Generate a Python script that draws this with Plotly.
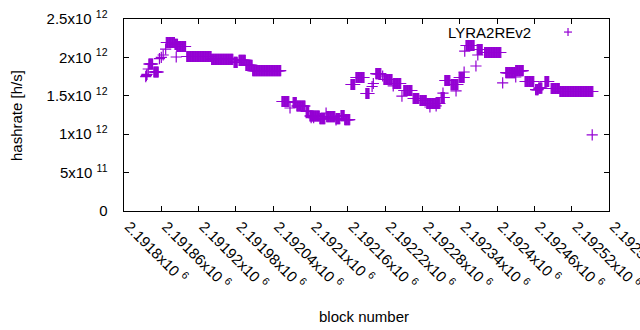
import numpy as np
import plotly.graph_objects as go

# Flat runs of consecutive blocks sharing one hashrate value (h/s)
run_start = [2191840, 2191848, 2191868, 2191882, 2191885, 2191901, 2191941, 2191977,
             2191985, 2191996, 2192007, 2192054, 2192072, 2192078, 2192093, 2192099,
             2192115, 2192126, 2192141, 2192149, 2192155, 2192165, 2192173, 2192189,
             2192205, 2192218, 2192233, 2192250, 2192265, 2192276, 2192287, 2192310,
             2192316, 2192326, 2192339, 2192350, 2192368, 2192380, 2192414, 2192430,
             2192445, 2192462, 2192467, 2192477, 2192487, 2192501]
run_end = [2191846, 2191855, 2191881, 2191886, 2191899, 2191940, 2191975, 2191982,
           2191995, 2192006, 2192052, 2192065, 2192077, 2192091, 2192097, 2192114,
           2192123, 2192139, 2192147, 2192154, 2192163, 2192171, 2192186, 2192194,
           2192213, 2192231, 2192245, 2192263, 2192274, 2192286, 2192308, 2192315,
           2192324, 2192337, 2192347, 2192363, 2192376, 2192406, 2192429, 2192442,
           2192459, 2192466, 2192472, 2192483, 2192500, 2192554]
run_value = [1.914e12, 1.810e12, 2.194e12, 2.170e12, 2.142e12, 2.012e12, 1.973e12, 1.934e12,
             1.960e12, 1.895e12, 1.829e12, 1.426e12, 1.413e12, 1.367e12, 1.296e12, 1.237e12,
             1.204e12, 1.230e12, 1.204e12, 1.243e12, 1.191e12, 1.647e12, 1.738e12, 1.530e12,
             1.790e12, 1.712e12, 1.660e12, 1.569e12, 1.465e12, 1.439e12, 1.400e12, 1.478e12,
             1.699e12, 1.647e12, 1.738e12, 2.155e12, 2.103e12, 2.064e12, 1.803e12, 1.829e12,
             1.686e12, 1.580e12, 1.600e12, 1.686e12, 1.595e12, 1.556e12]

# Isolated blocks
single_block = [2191835, 2191836, 2191837, 2191839, 2191857, 2191860, 2191863, 2191867,
                2191884, 2192067, 2192101, 2192105, 2192125, 2192141, 2192199, 2192201,
                2192216, 2192233, 2192247, 2192292, 2192302, 2192313, 2192334, 2192347,
                2192348, 2192366, 2192369, 2192409, 2192430, 2192553]
single_value = [1.749e12, 1.765e12, 1.780e12, 1.849e12, 1.985e12, 2.000e12, 2.031e12, 2.109e12,
                2.005e12, 1.341e12, 1.217e12, 1.215e12, 1.276e12, 1.185e12, 1.621e12, 1.660e12,
                1.758e12, 1.628e12, 1.497e12, 1.354e12, 1.370e12, 1.536e12, 1.563e12, 1.810e12,
                2.083e12, 1.888e12, 2.031e12, 1.667e12, 1.745e12, 0.990e12]

x_tickvals = [2191800 + 60 * i for i in range(14)]
x_ticktext = ["2.1918", "2.19186", "2.19192", "2.19198", "2.19204", "2.1921", "2.19216",
              "2.19222", "2.19228", "2.19234", "2.1924", "2.19246", "2.19252", "2.19258"]
y_tickvals = [0, 5e11, 1e12, 1.5e12, 2e12, 2.5e12]
y_ticktext = ["0", "5x10 <sup>11</sup>", "1x10 <sup>12</sup>", "1.5x10 <sup>12</sup>",
              "2x10 <sup>12</sup>", "2.5x10 <sup>12</sup>"]

blocks, rates = [], []
for s, e, v in zip(run_start, run_end, run_value):
    for b in range(s, e + 1):
        blocks.append(b)
        rates.append(v)
blocks += single_block
rates += single_value

COLOR = "#9400D3"
FONT = "Liberation Sans"
PAD = "\u00a0\u00a0\u00a0"  # gap between y tick labels and the axis

fig = go.Figure()
fig.add_trace(go.Scatter(
    x=blocks, y=rates, mode="markers", name="LYRA2REv2",
    marker=dict(symbol="cross-thin", size=8, color=COLOR,
                line=dict(color=COLOR, width=1.2)),
    showlegend=False,
))

axis_common = dict(showline=True, linecolor="black", linewidth=1, mirror="ticks",
                   ticks="inside", ticklen=5, tickcolor="black", tickwidth=1,
                   showgrid=False, zeroline=False, automargin=False,
                   ticklabeloverflow="allow",
                   tickfont=dict(family=FONT, size=15, color="black"))

fig.update_xaxes(range=[2191800, 2192580], tickvals=x_tickvals,
                 ticktext=[t + "x10 <sup>6</sup>" for t in x_ticktext],
                 tickangle=45, ticklabelshift=5, **axis_common)
fig.update_yaxes(range=[0, 2.5e12], tickvals=y_tickvals,
                 ticktext=[t + PAD for t in y_ticktext], **axis_common)

fig.add_annotation(text="hashrate [h/s]", xref="paper", yref="paper", x=-0.2227, y=0.5,
                   textangle=-90, showarrow=False, xanchor="center", yanchor="middle",
                   font=dict(family=FONT, size=15, color="black"))
fig.add_annotation(text="block number", xref="paper", yref="paper", x=0.495, y=-0.547,
                   showarrow=False, xanchor="center", yanchor="middle",
                   font=dict(family=FONT, size=15, color="black"))
# legend entry (gnuplot style: text then sample)
fig.add_annotation(text="LYRA2REv2", xref="paper", yref="paper", x=0.843, y=0.932,
                   showarrow=False, xanchor="right", yanchor="middle",
                   font=dict(family=FONT, size=15, color="black"))
lx, ly, dx, dy = 0.9155, 0.932, 4 / 485, 4 / 192
fig.add_shape(type="line", xref="paper", yref="paper", x0=lx - dx, x1=lx + dx, y0=ly, y1=ly,
              line=dict(color=COLOR, width=1.2))
fig.add_shape(type="line", xref="paper", yref="paper", x0=lx, x1=lx, y0=ly - dy, y1=ly + dy,
              line=dict(color=COLOR, width=1.2))

fig.update_layout(width=640, height=330, margin=dict(l=124, r=31, t=19, b=119),
                  plot_bgcolor="white", paper_bgcolor="white",
                  font=dict(family=FONT, size=15, color="black"))
fig.write_html("out.html", config={"displayModeBar": False},
               post_script="document.body.style.margin='0px';document.body.style.overflow='hidden';")
